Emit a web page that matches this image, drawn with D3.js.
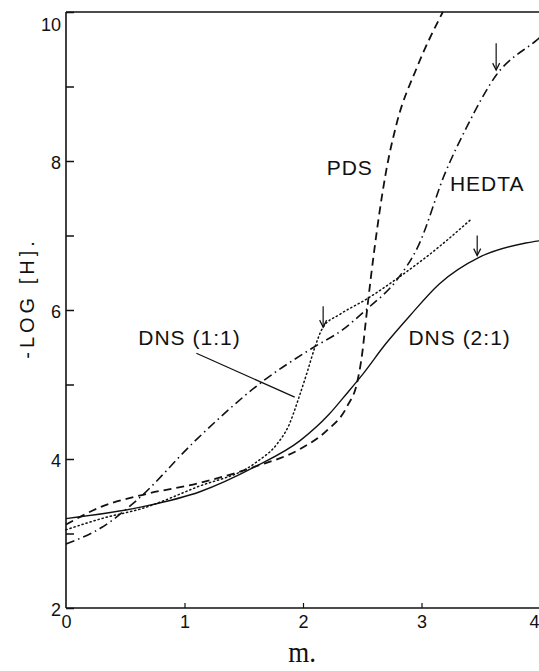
<!DOCTYPE html>
<html>
<head>
<meta charset="utf-8">
<script src="https://cdn.jsdelivr.net/npm/d3@7"></script>
<style>
    body { margin: 0; background: #fff; }
    svg { display: block; }
    .lbl { font-family: "Liberation Sans", Arial, sans-serif; fill: #111; }
</style>
</head>
<body>
<svg id="chart" width="539" height="671"></svg>
<script>
// values (m. vs -log[H])
var pdsM   = [0, 0.3, 0.65, 1.13, 1.6, 1.97, 2.2, 2.37, 2.46, 2.5, 2.53, 2.57, 2.64, 2.7, 2.79, 2.96, 3.18];
var pdsY   = [3.12, 3.36, 3.52, 3.68, 3.9, 4.13, 4.38, 4.7, 5.05, 5.42, 5.85, 6.4, 7.25, 7.85, 8.5, 9.25, 10.0];

var hedtaM = [0, 0.3, 0.6, 1.1, 1.65, 2.08, 2.33, 2.53, 2.79, 2.97, 3.2, 3.38, 3.63, 3.97, 4.0];
var hedtaY = [2.86, 3.08, 3.45, 4.26, 5.03, 5.49, 5.73, 6.0, 6.4, 6.85, 7.84, 8.45, 9.15, 9.62, 9.66];

var dns11M = [0, 0.3, 0.65, 1.1, 1.6, 1.78, 1.88, 1.96, 2.04, 2.1, 2.17, 2.31, 2.53, 2.81, 3.15, 3.42];
var dns11Y = [3.05, 3.2, 3.34, 3.62, 3.95, 4.2, 4.45, 4.8, 5.19, 5.5, 5.77, 5.94, 6.14, 6.44, 6.85, 7.22];

var dns21M = [0, 0.65, 1.13, 1.6, 1.97, 2.22, 2.37, 2.5, 2.7, 2.9, 3.15, 3.49, 3.88, 4.0];
var dns21Y = [3.2, 3.36, 3.56, 3.9, 4.24, 4.6, 4.88, 5.13, 5.55, 5.92, 6.35, 6.71, 6.9, 6.93];

// end-point arrows: [m, top, bottom]
var arrowM   = [2.17, 3.47, 3.63];
var arrowTop = [6.05, 7.0, 9.58];
var arrowBot = [5.77, 6.73, 9.22];

var xTicks = [0, 1, 2, 3, 4];
var yTicks = [2, 3, 4, 5, 6, 7, 8, 9, 10];
var yTickLabels = [2, 4, 6, 8, 10];

var svg = d3.select('#chart');
var x = d3.scaleLinear().domain([0, 4]).range([66, 540]);
var y = d3.scaleLinear().domain([2, 10]).range([608, 12]);

// frame: left, bottom and top edges
var frame = svg.append('g').attr('stroke', '#111').attr('stroke-width', 1.6).attr('fill', 'none');
frame.append('line').attr('x1', x(0)).attr('x2', x(0)).attr('y1', y(10)).attr('y2', y(2));
frame.append('line').attr('x1', x(0)).attr('x2', 539).attr('y1', y(2)).attr('y2', y(2));
frame.append('line').attr('x1', x(0)).attr('x2', 539).attr('y1', y(10)).attr('y2', y(10));

// y axis, ticks pointing inward
var yAxis = d3.axisRight(y).tickValues(yTicks).tickSize(8)
    .tickFormat(d => yTickLabels.indexOf(d) >= 0 ? d : '');
var gy = svg.append('g').attr('transform', 'translate(' + x(0) + ',0)').call(yAxis);
gy.select('.domain').remove();
gy.selectAll('.tick line').attr('stroke', '#111').attr('stroke-width', 1.5);
gy.selectAll('.tick text')
    .attr('class', 'lbl')
    .attr('x', -5).attr('dy', '0.4em')
    .attr('text-anchor', 'end')
    .style('font-size', '18px');
gy.selectAll('.tick').filter(d => d === 10).select('text').attr('dy', '1.0em');

// x axis, small ticks pointing up
var xAxis = d3.axisBottom(x).tickValues(xTicks).tickSize(-5).tickFormat(d3.format('d'));
var gx = svg.append('g').attr('transform', 'translate(0,' + y(2) + ')').call(xAxis);
gx.select('.domain').remove();
gx.selectAll('.tick line').attr('stroke', '#111').attr('stroke-width', 1.2)
    .filter(d => d === 0 || d === 4).remove();
gx.selectAll('.tick text')
    .attr('class', 'lbl')
    .attr('y', 6).attr('dy', '0.75em')
    .style('font-size', '18px');
gx.selectAll('.tick').filter(d => d === 4).select('text')
    .attr('text-anchor', 'end').attr('x', 539 - x(4));

// axis titles
svg.append('text').attr('class', 'lbl')
    .attr('transform', 'translate(34,298) rotate(-90)')
    .attr('text-anchor', 'middle')
    .style('font-size', '20px').style('letter-spacing', '4px')
    .text('-LOG [H].');

svg.append('text')
    .attr('transform', 'translate(302,662) scale(1,1.1)')
    .attr('text-anchor', 'middle')
    .style('font-family', '"Liberation Serif", serif')
    .style('font-size', '27px').attr('fill', '#111')
    .text('m.');

// curves
var line = d3.line().x(d => x(d[0])).y(d => y(d[1])).curve(d3.curveMonotoneX);
var plot = svg.append('g').attr('fill', 'none').attr('stroke', '#111');

function pairs(ms, ys) {
    return ms.map((m, i) => [m, ys[i]]);
}

plot.append('path').datum(pairs(dns21M, dns21Y)).attr('d', line)
    .attr('stroke-width', 1.4);
plot.append('path').datum(pairs(dns11M, dns11Y)).attr('d', line)
    .attr('stroke-width', 1.5).attr('stroke-dasharray', '1.2,3').attr('stroke-linecap', 'round');
plot.append('path').datum(pairs(pdsM, pdsY)).attr('d', line)
    .attr('stroke-width', 1.8).attr('stroke-dasharray', '8,5');
plot.append('path').datum(pairs(hedtaM, hedtaY)).attr('d', line)
    .attr('stroke-width', 1.6).attr('stroke-dasharray', '9,4,1.5,4');

// leader line for DNS (1:1)
plot.append('line')
    .attr('x1', x(1.1)).attr('y1', y(5.42))
    .attr('x2', x(1.93)).attr('y2', y(4.83))
    .attr('stroke-width', 1.2);

// arrows marking end points
arrowM.forEach(function (m, i) {
    var ax = x(m), yb = y(arrowBot[i]);
    plot.append('line').attr('x1', ax).attr('x2', ax)
        .attr('y1', y(arrowTop[i])).attr('y2', yb).attr('stroke-width', 1.2);
    plot.append('path')
        .attr('d', 'M' + (ax - 3.5) + ',' + (yb - 7) + 'L' + ax + ',' + yb + 'L' + (ax + 3.5) + ',' + (yb - 7))
        .attr('stroke-width', 1.2);
});

// curve labels
var labels = [
    { text: 'PDS', m: 2.2, v: 7.81 },
    { text: 'HEDTA', m: 3.24, v: 7.6 },
    { text: 'DNS (1:1)', m: 0.61, v: 5.53 },
    { text: 'DNS (2:1)', m: 2.89, v: 5.53 }
];
svg.selectAll('.curve-label')
    .data(labels)
    .enter()
    .append('text')
    .attr('class', 'lbl curve-label')
    .attr('x', d => x(d.m))
    .attr('y', d => y(d.v))
    .style('font-size', '21px')
    .style('letter-spacing', '1px')
    .text(d => d.text);
</script>
</body>
</html>
